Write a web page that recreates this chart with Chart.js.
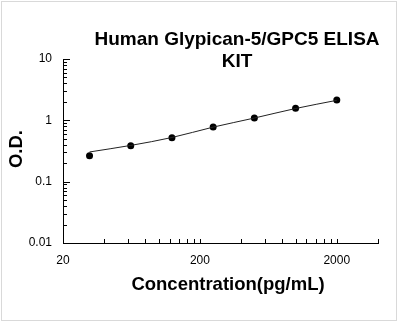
<!DOCTYPE html>
<html>
<head>
<meta charset="utf-8">
<script src="https://cdn.jsdelivr.net/npm/chart.js@4"></script>
<style>
  html, body { margin: 0; padding: 0; background: #fff; }
  canvas { display: block; }
</style>
</head>
<body>
<canvas id="elisa" width="398" height="323"></canvas>
<script>
// standard curve
const titleLines = ['Human Glypican-5/GPC5 ELISA', 'KIT']
const xTitle = 'Concentration(pg/mL)'
const yTitle = 'O.D.'
const concentrations = [31.25, 62.5, 125, 250, 500, 1000, 2000]
const odValues = [0.265, 0.386, 0.522, 0.78, 1.09, 1.58, 2.14]
const fitValues = [0.305, 0.39, 0.525, 0.775, 1.09, 1.56, 2.12]
const xTicks = [20, 40, 60, 80, 100, 120, 140, 160, 180, 200, 400, 600, 800, 1000, 1200, 1400, 1600, 1800, 2000, 4000]
const xLabels = [20, 200, 2000]
const yTicks = [0.01, 0.02, 0.03, 0.04, 0.05, 0.06, 0.07, 0.08, 0.09,
                0.1, 0.2, 0.3, 0.4, 0.5, 0.6, 0.7, 0.8, 0.9,
                1, 2, 3, 4, 5, 6, 7, 8, 9, 10]
const yLabels = [0.01, 0.1, 1, 10]

const FONT = '"Liberation Sans", Arial, sans-serif'

let points = concentrations.map((c, i) => ({x: c, y: odValues[i]}))
let fit = concentrations.map((c, i) => ({x: c, y: fitValues[i]}))

// inward tick marks, titles and the outer frame
const decor = {
  id: 'decor',
  afterDraw(chart) {
    const ctx = chart.ctx
    const area = chart.chartArea
    const xs = chart.scales.x, ys = chart.scales.y
    ctx.save()
    ctx.strokeStyle = '#000'
    ctx.lineWidth = 1
    ctx.beginPath()
    yTicks.forEach(v => {
      let py = Math.round(ys.getPixelForValue(v)) + 0.5
      let len = yLabels.includes(v) ? 7 : 4
      ctx.moveTo(area.left, py)
      ctx.lineTo(area.left + len, py)
    })
    xTicks.forEach(v => {
      let px = Math.round(xs.getPixelForValue(v)) + 0.5
      ctx.moveTo(px, area.bottom)
      ctx.lineTo(px, area.bottom - 4)
    })
    ctx.stroke()

    ctx.strokeStyle = '#d9d9d9'
    ctx.strokeRect(1.5, 1.5, 395, 319)

    ctx.fillStyle = '#000'
    ctx.font = 'bold 19px ' + FONT
    ctx.textAlign = 'center'
    ctx.textBaseline = 'alphabetic'
    ctx.fillText(titleLines[0], 237, 45)
    ctx.fillText(titleLines[1], 237, 66.5)
    ctx.font = 'bold 18.5px ' + FONT
    ctx.textBaseline = 'middle'
    ctx.fillText(xTitle, 228, 285)
    ctx.translate(17, 149)
    ctx.rotate(-Math.PI / 2)
    ctx.fillText(yTitle, 0, 0)
    ctx.restore()
  }
}

let chart = new Chart(document.getElementById('elisa'), {
  type: 'scatter',
  data: {
    datasets: [
      {
        data: fit,
        showLine: true,
        borderColor: '#222',
        borderWidth: 1,
        pointRadius: 0,
        cubicInterpolationMode: 'monotone'
      },
      {
        data: points,
        showLine: false,
        pointRadius: 3.5,
        pointBackgroundColor: '#000',
        pointBorderColor: '#000',
        pointBorderWidth: 0
      }
    ]
  },
  options: {
    responsive: false,
    animation: false,
    devicePixelRatio: 1,
    layout: { padding: { top: 59, right: 20, left: 0, bottom: 0 } },
    plugins: {
      legend: { display: false },
      title: { display: false },
      tooltip: { enabled: false }
    },
    scales: {
      x: {
        type: 'logarithmic',
        min: 20,
        max: 4000,
        afterFit: s => { s.height = 80 },
        afterBuildTicks: s => { s.ticks = xLabels.map(v => ({value: v})) },
        grid: { display: false, drawTicks: false },
        border: { display: true, color: '#000', width: 1 },
        ticks: {
          autoSkip: false,
          maxRotation: 0,
          padding: 10,
          color: '#000',
          font: { family: FONT, size: 12 },
          callback: v => String(v)
        }
      },
      y: {
        type: 'logarithmic',
        min: 0.01,
        max: 10,
        afterFit: s => { s.width = 63 },
        afterBuildTicks: s => { s.ticks = yLabels.map(v => ({value: v})) },
        grid: { display: false, drawTicks: false },
        border: { display: true, color: '#000', width: 1 },
        ticks: {
          autoSkip: false,
          padding: 11,
          color: '#000',
          font: { family: FONT, size: 12 },
          callback: v => String(v)
        }
      }
    }
  },
  plugins: [decor]
})
</script>
</body>
</html>
